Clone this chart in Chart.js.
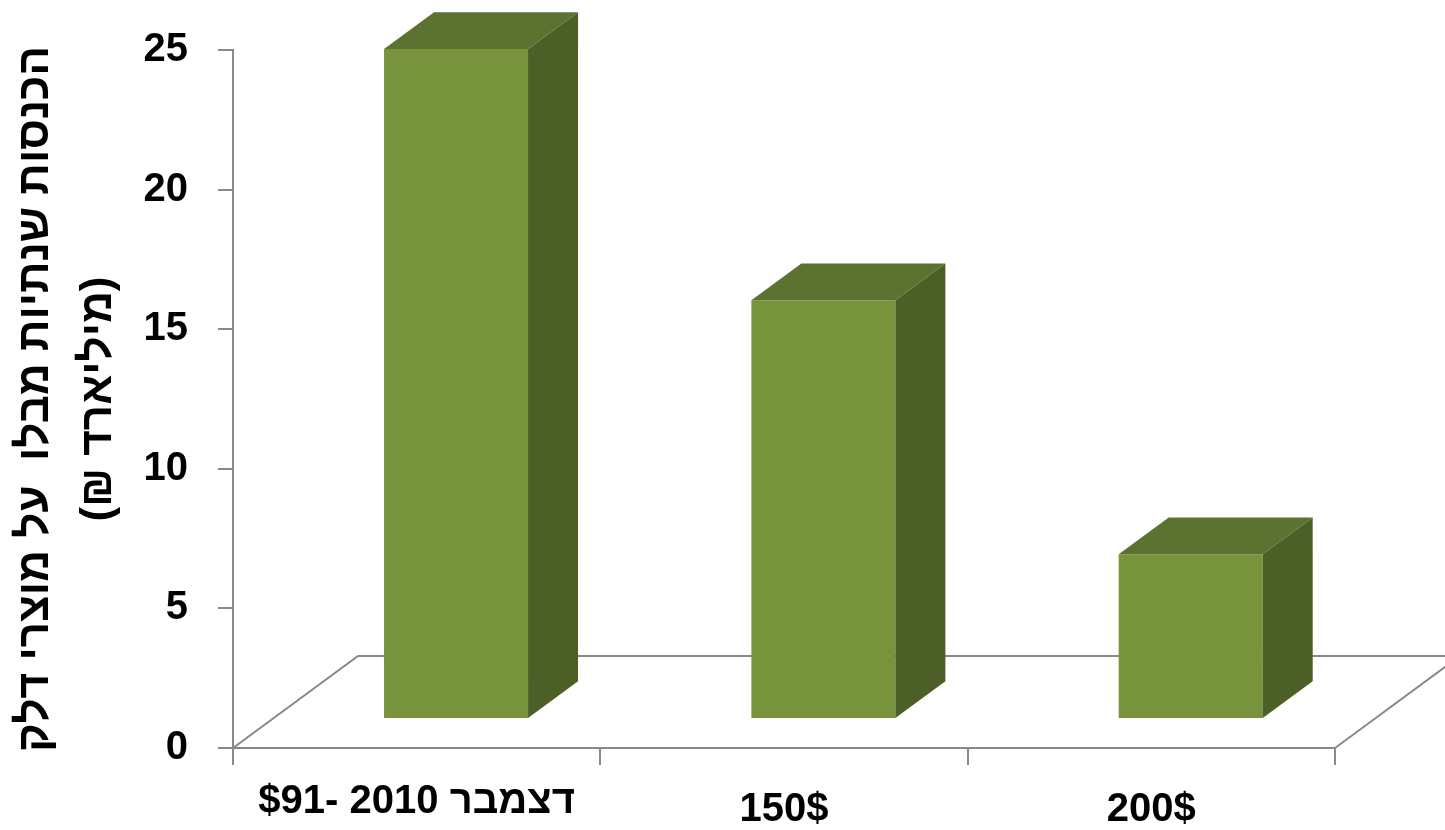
<!DOCTYPE html>
<html lang="he">
<head>
<meta charset="utf-8">
<title>הכנסות שנתיות מבלו על מוצרי דלק</title>
<script src="https://cdn.jsdelivr.net/npm/chart.js@4.4.1/dist/chart.umd.min.js"></script>
<style>
  body { margin: 0; background: #fff; }
  #caja { width: 1445px; height: 830px; }
</style>
</head>
<body>
<div id="caja"><canvas id="grafico" dir="rtl"></canvas></div>
<script>
let categorias = ['דצמבר 2010 -$91', '150$', '200$'];
let valores = [24, 15, 5.9];
let ticksY = [0, 5, 10, 15, 20, 25];
let tituloY = ['הכנסות שנתיות מבלו  על מוצרי דלק', '(מיליארד ₪)'];

const fuente = '"Liberation Sans", "DejaVu Sans", sans-serif';
const colorFrente = '#77933c';
const colorArriba = '#5c7230';
const colorLado = '#4b5f27';
const colorEje = '#898989';

// profundidad del suelo 3D, y donde quedan las barras dentro de el
const fondo = { x: 125, y: -92 };
const desplaz = 0.315;
const grosor = 0.4;

const efecto3d = {
  id: 'efecto3d',
  beforeDatasetsDraw(chart) {
    const ctx = chart.ctx;
    const a = chart.chartArea;
    ctx.save();
    ctx.strokeStyle = colorEje;
    ctx.lineWidth = 2;
    ctx.beginPath();
    ctx.moveTo(a.left, a.bottom);
    ctx.lineTo(a.left + fondo.x, a.bottom + fondo.y);
    ctx.lineTo(a.right + fondo.x, a.bottom + fondo.y);
    ctx.lineTo(a.right, a.bottom);
    ctx.stroke();
    ctx.restore();

    // las barras se dibujan corridas hacia el fondo
    ctx.save();
    ctx.translate(fondo.x * desplaz, fondo.y * desplaz);
  },
  afterDatasetsDraw(chart) {
    const ctx = chart.ctx;
    const dx = fondo.x * grosor, dy = fondo.y * grosor;
    chart.getDatasetMeta(0).data.forEach(bar => {
      const p = bar.getProps(['x', 'y', 'base', 'width'], true);
      const izq = p.x - p.width / 2, der = p.x + p.width / 2;

      ctx.fillStyle = colorLado;
      ctx.beginPath();
      ctx.moveTo(der, p.y);
      ctx.lineTo(der + dx, p.y + dy);
      ctx.lineTo(der + dx, p.base + dy);
      ctx.lineTo(der, p.base);
      ctx.closePath();
      ctx.fill();

      ctx.fillStyle = colorArriba;
      ctx.beginPath();
      ctx.moveTo(izq, p.y);
      ctx.lineTo(izq + dx, p.y + dy);
      ctx.lineTo(der + dx, p.y + dy);
      ctx.lineTo(der, p.y);
      ctx.closePath();
      ctx.fill();
    });
    ctx.restore();
  }
};

new Chart(document.getElementById('grafico'), {
  type: 'bar',
  data: {
    labels: categorias,
    datasets: [{
      data: valores,
      backgroundColor: colorFrente,
      borderWidth: 0,
      categoryPercentage: 1,
      barPercentage: 0.392
    }]
  },
  options: {
    responsive: true,
    maintainAspectRatio: false,
    animation: false,
    devicePixelRatio: 1,
    layout: { padding: { top: 50, right: 110, left: 0, bottom: 0 } },
    plugins: {
      legend: { display: false },
      tooltip: { enabled: false }
    },
    scales: {
      x: {
        grid: { drawOnChartArea: false, tickLength: 17, color: colorEje, lineWidth: 2, offset: true },
        border: { color: colorEje, width: 2 },
        ticks: {
          color: '#000',
          autoSkip: false,
          maxRotation: 0,
          padding: 33,
          font: { family: fuente, size: 40, weight: 'bold', lineHeight: 0.2 },
          callback: (v, i) => i === 0 ? categorias[i] : ['', categorias[i]]
        },
        afterFit: s => { s.height = 82; }
      },
      y: {
        min: 0,
        max: 25,
        afterBuildTicks: s => { s.ticks = ticksY.map(v => ({ value: v })); },
        grid: { drawOnChartArea: false, tickLength: 15, color: colorEje, lineWidth: 2 },
        border: { color: colorEje, width: 2 },
        ticks: {
          color: '#000',
          padding: 30,
          font: { family: fuente, size: 40, weight: 'bold' }
        },
        title: {
          display: true,
          text: tituloY,
          color: '#000',
          padding: { top: 5, bottom: 0 },
          font: { family: fuente, size: 44, weight: 'bold', lineHeight: 1.42 }
        },
        afterFit: s => {
          s.width = 233;
          s.paddingTop = 0;
          s.paddingBottom = 0;
        }
      }
    }
  },
  plugins: [efecto3d]
});
</script>
</body>
</html>
